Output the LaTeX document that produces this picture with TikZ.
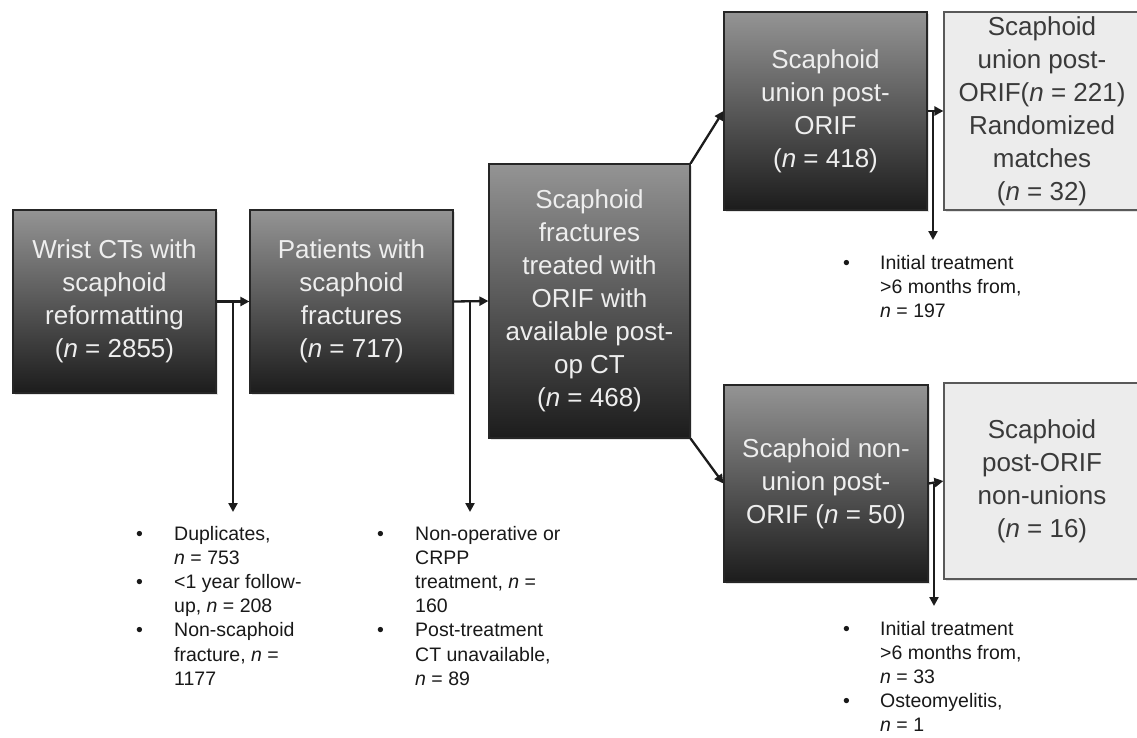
\documentclass[tikz,border=0pt]{standalone}
\usepackage{fontspec}
\setmainfont{Liberation Sans}
\usetikzlibrary{arrows.meta,shadows}
\definecolor{boxtop}{RGB}{148,148,148}
\definecolor{boxmid}{RGB}{80,80,80}
\definecolor{boxbot}{RGB}{28,28,28}
\definecolor{lightfill}{RGB}{236,236,236}
\definecolor{lighttext}{RGB}{58,58,58}
\definecolor{linecol}{RGB}{28,28,28}
\definecolor{darktext}{RGB}{238,238,238}
\begin{document}
\begin{tikzpicture}[x=1pt,y=-1pt,
  boxbase/.style={line width=1.2pt, align=center, inner sep=0pt,
    font=\fontsize{26}{33}\selectfont,
    drop shadow={shadow xshift=2pt,shadow yshift=-2pt,opacity=0.22}},
  darkbox/.style={boxbase, draw=black!85, top color=boxtop, middle color=boxmid,
    bottom color=boxbot, text=darktext},
  lightbox/.style={boxbase, draw=black!65, fill=lightfill, text=lighttext},
  arr/.style={line width=2.3pt, draw=linecol, -{Triangle[length=9pt,width=9pt]}},
  excl/.style={anchor=north west, inner sep=0pt, text=black!90,
    font=\fontsize{19.5}{24.2}\selectfont, align=left}
]
\fill[white] (0,0) rectangle (1137,737);
\useasboundingbox (0,0) rectangle (1137,737);

% main boxes
\node[darkbox, minimum width=203pt, minimum height=183pt] (b1) at (114.5,301.5)
  {Wrist CTs with\\scaphoid\\reformatting\\(\textit{n} = 2855)};
\node[darkbox, minimum width=203pt, minimum height=183pt] (b2) at (351.5,301.5)
  {Patients with\\scaphoid\\fractures\\(\textit{n} = 717)};
\node[darkbox, minimum width=201pt, minimum height=274pt] (b3) at (589.5,301)
  {Scaphoid\\fractures\\treated with\\ORIF with\\available post-\\op CT\\(\textit{n} = 468)};
\node[darkbox, minimum width=203pt, minimum height=198pt] (b4) at (825.5,111)
  {Scaphoid\\union post-\\ORIF\\(\textit{n} = 418)};
\node[lightbox, minimum width=196pt, minimum height=198pt] (b5) at (1042,111)
  {Scaphoid\\union post-\\ORIF(\textit{n} = 221)\\Randomized\\matches\\(\textit{n} = 32)};
\node[darkbox, minimum width=204pt, minimum height=197pt] (b6) at (826,483.5)
  {Scaphoid non-\\union post-\\ORIF (\textit{n} = 50)};
\node[lightbox, minimum width=196pt, minimum height=196pt] (b7) at (1042,481)
  {Scaphoid\\post-ORIF\\non-unions\\(\textit{n} = 16)};

% exclusion lists
\node[excl] (e1) at (136,523) {\begin{tabular}{@{}p{38pt}@{}l@{}}
\textbullet & Duplicates,\\ & \textit{n} = 753\\
\textbullet & <1 year follow-\\ & up, \textit{n} = 208\\
\textbullet & Non-scaphoid\\ & fracture, \textit{n} =\\ & 1177
\end{tabular}};
\node[excl] (e2) at (377,523) {\begin{tabular}{@{}p{38pt}@{}l@{}}
\textbullet & Non-operative or\\ & CRPP\\ & treatment, \textit{n} =\\ & 160\\
\textbullet & Post-treatment\\ & CT unavailable,\\ & \textit{n} = 89
\end{tabular}};
\node[excl] (e3) at (843,252) {\begin{tabular}{@{}p{37pt}@{}l@{}}
\textbullet & Initial treatment\\ & >6 months from,\\ & \textit{n} = 197
\end{tabular}};
\node[excl] (e4) at (843,618) {\begin{tabular}{@{}p{37pt}@{}l@{}}
\textbullet & Initial treatment\\ & >6 months from,\\ & \textit{n} = 33\\
\textbullet & Osteomyelitis,\\ & \textit{n} = 1
\end{tabular}};

% junctions and free ends
\coordinate (j1) at (233,301.5);
\coordinate (t1) at (233,512);
\coordinate (j2) at (470,301.5);
\coordinate (t2) at (470,512);
\coordinate (j4) at (933,111);
\coordinate (t4) at (933,240);
\coordinate (j6) at (934,483.5);
\coordinate (t6) at (934,606);

% connectors
\draw[arr] (b1.east) -- (b2.west);
\draw[arr] (j1) -- (t1);
\draw[arr] (b2.east) -- (b3.west);
\draw[arr] (j2) -- (t2);
\draw[arr] (b3.north east) -- (b4.west);
\draw[arr] (b3.south east) -- (b6.west);
\draw[arr] (b4.east) -- (b5.west);
\draw[arr] (j4) -- (t4);
\draw[arr] (b6.east) -- (b7.west);
\draw[arr] (j6) -- (t6);
\end{tikzpicture}
\end{document}
